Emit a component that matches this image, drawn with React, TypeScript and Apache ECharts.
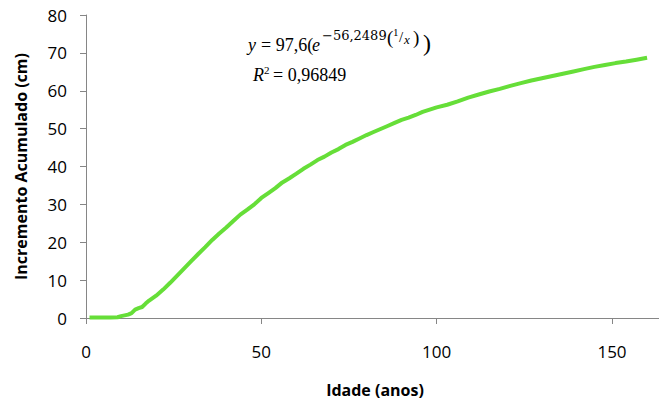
import React, { useEffect, useRef } from "react";
import * as echarts from "echarts";

const ages = [1, 4, 7, 9, 10, 11, 12, 13, 14, 15, 16, 17, 18, 20, 22, 24, 26, 28, 30, 32, 34, 36, 38, 40, 42, 44, 46, 48, 50, 52, 54, 56, 58, 60, 62, 64, 66, 68, 70, 72, 74, 76, 78, 80, 82, 84, 86, 88, 90, 92, 94, 96, 98, 100, 103, 106, 109, 112, 115, 118, 121, 124, 127, 130, 133, 136, 139, 142, 145, 148, 151, 154, 157, 160];
const increments = [0.1, 0.1, 0.1, 0.2, 0.5, 0.7, 0.9, 1.3, 2.2, 2.6, 2.9, 3.8, 4.6, 5.9, 7.5, 9.3, 11.2, 13.1, 15.0, 16.9, 18.7, 20.6, 22.3, 23.9, 25.6, 27.3, 28.6, 30.0, 31.7, 33.0, 34.3, 35.8, 36.9, 38.1, 39.4, 40.5, 41.7, 42.6, 43.7, 44.6, 45.7, 46.5, 47.4, 48.3, 49.1, 49.9, 50.7, 51.5, 52.3, 52.9, 53.6, 54.4, 55.0, 55.6, 56.3, 57.2, 58.2, 59.0, 59.8, 60.5, 61.3, 62.0, 62.7, 63.3, 63.9, 64.5, 65.1, 65.7, 66.3, 66.8, 67.3, 67.7, 68.2, 68.7];

const xTitle = "Idade (anos)";
const yTitle = "Incremento Acumulado (cm)";
const eqMain = "= 97,6(";
const eqExp = "\u221256,2489";
const r2Value = "= 0,96849";

export default function App() {
  const ref = useRef<HTMLDivElement>(null);
  useEffect(() => {
    if (!ref.current) return;
    const chart = echarts.init(ref.current, undefined, { renderer: "svg" });
    const axisColor = "#868686";
    const sans = "Open Sans";
    const serif = "Liberation Serif";
    const t = (text: string, x: number, y: number, font: string) => ({
      type: "text",
      x,
      y,
      style: { text, fill: "#000", font, textAlign: "left", textVerticalAlign: "middle" },
    });
    chart.setOption({
      animation: false,
      backgroundColor: "#ffffff",
      grid: { left: 86, top: 15, bottom: 87, right: 0, containLabel: false },
      xAxis: {
        type: "value",
        min: 0,
        max: 163.4,
        interval: 50,
        axisLine: { show: true, lineStyle: { color: axisColor, width: 1 } },
        axisTick: { show: true, length: 6, lineStyle: { color: axisColor } },
        axisLabel: { margin: 25, color: "#000", fontSize: 17, fontFamily: sans, showMaxLabel: false },
        splitLine: { show: false },
      },
      yAxis: {
        type: "value",
        min: 0,
        max: 80,
        interval: 10,
        name: yTitle,
        nameLocation: "middle",
        nameGap: 57,
        nameTextStyle: { color: "#000", fontSize: 16, fontWeight: "bold", fontFamily: sans },
        axisLine: { show: true, lineStyle: { color: axisColor, width: 1 } },
        axisTick: { show: true, length: 6, lineStyle: { color: axisColor } },
        axisLabel: { margin: 19, color: "#000", fontSize: 17, fontFamily: sans },
        splitLine: { show: false },
      },
      series: [
        {
          type: "line",
          data: ages.map((a, i) => [a, increments[i]]),
          showSymbol: false,
          smooth: false,
          lineStyle: { color: "#66DE38", width: 4 },
        },
      ],
      graphic: [
        {
          type: "text",
          x: 375,
          y: 390,
          style: { text: xTitle, fill: "#000", font: `bold 16px '${sans}'`, textAlign: "center", textVerticalAlign: "middle" },
        },
        t("y", 248, 45, `italic 18px '${serif}'`),
        t(eqMain, 261, 45, `18px '${serif}'`),
        t("e", 312, 45, `italic 18px '${serif}'`),
        t(eqExp, 322, 35, `13px 'DejaVu Serif'`),
        t("(", 387, 37, `19px '${serif}'`),
        t("1", 393, 32, `11px '${serif}'`),
        t("/", 399, 37, `15px '${serif}'`),
        t("x", 404, 39, `italic 13px '${serif}'`),
        t(")", 413, 37, `19px '${serif}'`),
        t(")", 423, 43, `24px '${serif}'`),
        t("R", 253, 75, `italic 18px '${serif}'`),
        t("2", 264, 70, `11px '${serif}'`),
        t(r2Value, 273, 75, `18px '${serif}'`),
      ],
    });
    return () => chart.dispose();
  }, []);
  return (
    <div
      ref={ref}
      style={{ position: "fixed", left: 0, top: 0, width: 659, height: 405, overflow: "hidden", background: "#fff" }}
    />
  );
}
